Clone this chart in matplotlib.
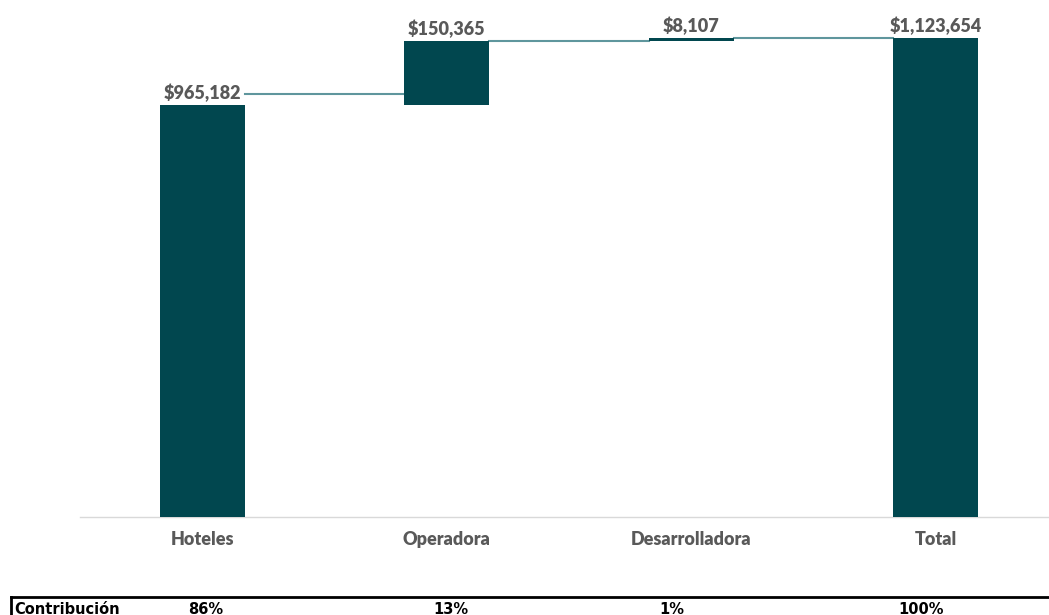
import matplotlib.pyplot as plt
from matplotlib.lines import Line2D
from matplotlib.transforms import ScaledTranslation

categories = ["Hoteles", "Operadora", "Desarrolladora", "Total"]
values = [965182, 150365, 8107, 1123654]
is_total = [False, False, False, True]
contrib_label = "Contribución"
contrib = ["86%", "13%", "1%", "100%"]

BAR = "#01474f"
LINK = "#5f969d"
GREY = "#595959"

fig = plt.figure(figsize=(10.49, 6.15), dpi=100)
ax = fig.add_axes([80 / 1049, 98 / 615, 978 / 1049, 512 / 615])

x = list(range(len(categories)))
bottoms = []
run = 0
for v, tot in zip(values, is_total):
    if tot:
        bottoms.append(0)
        run = v
    else:
        bottoms.append(run)
        run += v
tops = [b + v for b, v in zip(bottoms, values)]

w = 0.348
ax.bar(x, values, bottom=bottoms, width=w, color=BAR, zorder=3)

# connectors between bars (first one sits a bit above the bar, as in the source)
lifts = [11, 0, 0]
for i in range(len(x) - 1):
    tr = ax.transData + ScaledTranslation(0, lifts[i] / 100, fig.dpi_scale_trans)
    ax.plot([x[i] + w / 2, x[i + 1] - w / 2], [tops[i], tops[i]],
            color=LINK, lw=1.5, zorder=2, transform=tr)

for xi, t, v in zip(x, tops, values):
    ax.annotate(f"${v:,}", (xi, t), xytext=(0, 2), textcoords="offset points",
                ha="center", va="bottom", fontsize=13, fontweight="heavy",
                color=GREY, family="Lato")

ax.set_xlim(-0.5, 3.5)
ax.set_ylim(0, 1.2e6)
ax.set_yticks([])
ax.set_xticks(x)
ax.set_xticklabels(categories, fontsize=13, fontweight="heavy", color=GREY,
                   family="Lato")
ax.tick_params(axis="x", length=0, pad=10)
for s in ["top", "right", "left"]:
    ax.spines[s].set_visible(False)
ax.spines["bottom"].set_color("#d9d9d9")
ax.spines["bottom"].set_linewidth(1)

# contribution row (table under the chart, cut off at the bottom edge)
fig.add_artist(Line2D([11 / 1049, 1], [18 / 615, 18 / 615], color="black", lw=2))
fig.add_artist(Line2D([11 / 1049, 11 / 1049], [0, 18 / 615], color="black", lw=2))
fig.text(14 / 1049, 1 / 615, contrib_label, fontsize=10.5, fontweight="bold",
         color="black", va="baseline", ha="left")
for px, c in zip([206, 451, 672, 921], contrib):
    fig.text(px / 1049, 1 / 615, c, fontsize=10.5, fontweight="bold",
             color="black", va="baseline", ha="center")

fig.savefig("out.png", dpi=100)
